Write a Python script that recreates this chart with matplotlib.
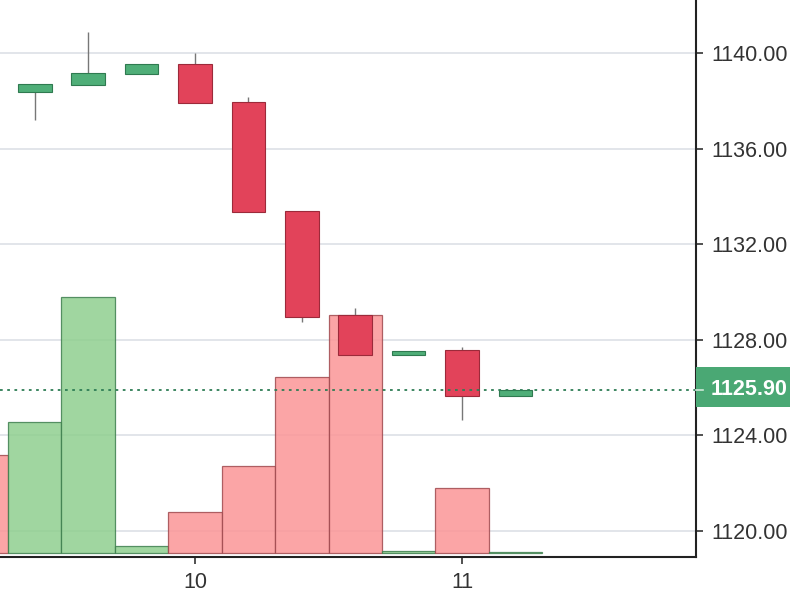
"""
Candlestick chart with volume bars, last price on the right axis.
"""

import matplotlib
matplotlib.use("Agg")
import matplotlib.pyplot as plt
import matplotlib.transforms as mtransforms
from matplotlib.patches import Rectangle

plt.rcParams['font.family'] = ['Liberation Sans', 'DejaVu Sans']

# candle slots, 10 and 11 are at slot 0 and slot 5
slots = [-4, -3, -2, -1, 0, 1, 2, 3, 4, 5, 6]
opens = [None, 1138.37, 1138.66, 1139.12, 1139.54, 1137.95, 1133.39, 1129.04, 1127.36, 1127.57, 1125.65]
highs = [None, 1138.70, 1140.88, 1139.54, 1140.00, 1138.16, 1133.39, 1129.33, 1127.53, 1127.70, 1125.94]
lows = [None, 1137.20, 1138.66, 1139.12, 1137.91, 1133.35, 1128.74, 1127.36, 1127.36, 1124.64, 1125.65]
closes = [None, 1138.70, 1139.16, 1139.54, 1137.91, 1133.35, 1128.95, 1127.36, 1127.53, 1125.65, 1125.90]
volumes = [980, 1310, 2560, 70, 410, 870, 1760, 2380, 20, 650, 10]
vol_up = [False, True, True, True, False, False, False, False, True, False, True]
last_price = 1125.90
x_ticks = [0, 5]
x_labels = ["10", "11"]
y_ticks = [1120, 1124, 1128, 1132, 1136, 1140]

up_col = "#4fae78"
down_col = "#e2435a"
grid_col = "#dde0e6"

fig = plt.figure(figsize=(8, 6), dpi=100)
ax = fig.add_axes([0, 43 / 600, 696 / 800, 557 / 600])
vax = ax.twinx()
ax.set_zorder(vax.get_zorder() + 1)
ax.patch.set_visible(False)
ax.set_xlim(-3.65, 9.38)
ax.set_ylim(1118.91, 1142.22)

# grid sits under the volume bars, so it lives on the volume axes
vax.grid(True, axis="x", color=grid_col, linewidth=1.2)
vax.set_axisbelow(True)
trans = mtransforms.blended_transform_factory(vax.transAxes, ax.transData)
vax.hlines(y_ticks, 0, 1, transform=trans, colors=grid_col, linewidth=1.2, zorder=0.5)

# volume bars
for s, v, up in zip(slots, volumes, vol_up):
    if up:
        vax.bar(s, v, width=1.0, color="#8fcf8f", alpha=0.85, edgecolor="#3f7f4f", linewidth=0.9)
    else:
        vax.bar(s, v, width=1.0, color="#fb9697", alpha=0.85, edgecolor="#a04a4f", linewidth=0.9)
vax.set_ylim(-40, 5530)
vax.set_yticks([])
for sp in vax.spines.values():
    sp.set_visible(False)

# candles
w = 0.63
for s, o, h, l, c in zip(slots, opens, highs, lows, closes):
    if o is None:
        continue
    col = up_col if c >= o else down_col
    edge = "#2f7a50" if c >= o else "#9c2a3a"
    ax.vlines(s, l, h, color="#777777", linewidth=1, zorder=2)
    ax.add_patch(Rectangle((s - w / 2, min(o, c)), w, max(abs(c - o), 0.12),
                           facecolor=col, edgecolor=edge, linewidth=0.8, zorder=3))

ax.axhline(last_price, color="#2e7d55", linestyle=(0, (1.5, 2.5)), linewidth=1.3, zorder=4)

ax.set_xticks(x_ticks)
ax.set_xticklabels(x_labels)
ax.set_yticks(y_ticks)
ax.set_yticklabels(["%.2f" % t for t in y_ticks])
ax.yaxis.tick_right()
ax.tick_params(axis="both", colors="#333333", labelsize=15.5, length=5, width=1.2, pad=6)

ax.spines["left"].set_visible(False)
ax.spines["top"].set_visible(False)
for side in ["right", "bottom"]:
    ax.spines[side].set_color("#222222")
    ax.spines[side].set_linewidth(1.5)

# last price label: green box on the right axis
ptrans = mtransforms.blended_transform_factory(ax.transAxes, ax.transData)
ax.add_patch(Rectangle((1.0, last_price - 0.72), 94 / 696, 1.67, transform=ptrans,
                       facecolor="#4aa874", edgecolor="none", clip_on=False, zorder=5))
ax.plot([1.0, 1.0 + 7 / 696], [last_price, last_price], transform=ptrans,
        color="#cfe8d8", linewidth=1.2, clip_on=False, zorder=6)
ax.text(1.0 + 92 / 696, last_price, "%.2f" % last_price, transform=ptrans,
        ha="right", va="center", fontsize=15.5, fontweight="bold", color="white", zorder=7)

fig.savefig("out.png", dpi=100)
